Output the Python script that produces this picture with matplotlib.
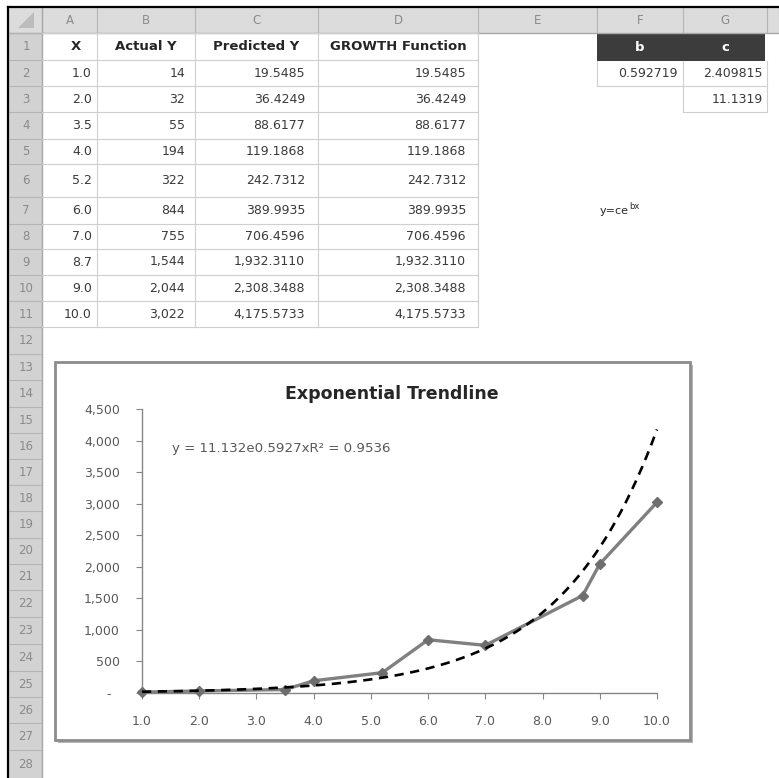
import numpy as np
import matplotlib
matplotlib.use('Agg')
import matplotlib.pyplot as plt
from matplotlib.patches import Rectangle, Polygon
from matplotlib.ticker import FuncFormatter, MultipleLocator

# data
x_vals = [1.0, 2.0, 3.5, 4.0, 5.2, 6.0, 7.0, 8.7, 9.0, 10.0]
actual_y = [14, 32, 55, 194, 322, 844, 755, 1544, 2044, 3022]
predicted_y = ['19.5485', '36.4249', '88.6177', '119.1868', '242.7312', '389.9935',
               '706.4596', '1,932.3110', '2,308.3488', '4,175.5733']
growth_y = predicted_y
b_coef = 0.592719
ln_c = 2.409815
c_coef = 11.1319
headers = ['X', 'Actual Y', 'Predicted Y', 'GROWTH Function']
col_letters = ['A', 'B', 'C', 'D', 'E', 'F', 'G']
eq_text = 'y = 11.132e0.5927xR² = 0.9536'
chart_title = 'Exponential Trendline'

W, H = 779, 778
fig = plt.figure(figsize=(W / 100, H / 100), dpi=100)
bg = fig.add_axes([0, 0, 1, 1])
bg.set_xlim(0, W)
bg.set_ylim(H, 0)
bg.axis('off')

# sheet geometry (pixels)
col_edges = [42, 97, 195, 318, 478, 597, 683, 767, 779]
row_edges = [33, 60, 86, 112, 139, 164, 197, 224, 249, 275, 301, 327, 354, 380,
             407, 433, 459, 485, 511, 538, 564, 590, 617, 644, 671, 697, 723, 750, 778]

# column header strip
bg.add_patch(Rectangle((8, 7), W - 8, 26, facecolor='#dcdcdc', edgecolor='none'))
for xe in col_edges:
    bg.plot([xe, xe], [7, 33], color='#b4b4b4', lw=0.8)
for i, L in enumerate(col_letters):
    xc = (col_edges[i] + col_edges[i + 1]) / 2
    bg.text(xc, 20, L, ha='center', va='center', fontsize=8.5, color='#8a8a8a')
bg.plot([8, W], [33, 33], color='#a8a8a8', lw=1)
# corner triangle
bg.add_patch(Polygon([[34, 12], [34, 28], [18, 28]], closed=True, facecolor='#bcbcbc',
                     edgecolor='none'))

# row header strip
bg.add_patch(Rectangle((8, 33), 34, H - 33, facecolor='#d2d2d2', edgecolor='none'))
for i in range(len(row_edges) - 1):
    bg.plot([8, 42], [row_edges[i], row_edges[i]], color='#b4b4b4', lw=0.8)
    yc = (row_edges[i] + row_edges[i + 1]) / 2
    bg.text(26, yc, str(i + 1), ha='center', va='center', fontsize=8.5, color='#8a8a8a')
bg.plot([42, 42], [7, H], color='#a8a8a8', lw=1)

# outer black frame
bg.plot([8, 8], [7, H], color='black', lw=1.6)
bg.plot([8, W], [7, 7], color='black', lw=1.6)

# table grid A1:D11
for ye in row_edges[:12]:
    bg.plot([42, 478], [ye, ye], color='#cfcfcf', lw=0.8)
for xe in col_edges[1:5]:
    bg.plot([xe, xe], [33, 327], color='#cfcfcf', lw=0.8)

# header row
for j, h in enumerate(headers):
    xc = (col_edges[j] + col_edges[j + 1]) / 2
    bg.text(xc + (6 if j == 0 else 0), 46.5, h, ha='center', va='center', fontsize=9.5,
            fontweight='bold', color='#262626')

pads = [5, 10, 13, 12]
for i in range(len(x_vals)):
    yc = (row_edges[i + 1] + row_edges[i + 2]) / 2
    cells = [f'{x_vals[i]:.1f}', f'{actual_y[i]:,}', predicted_y[i], growth_y[i]]
    for j, s in enumerate(cells):
        bg.text(col_edges[j + 1] - pads[j], yc, s, ha='right', va='center', fontsize=9,
                color='#3a3a3a')

# b / c block
bg.add_patch(Rectangle((597, 33), 168, 28, facecolor='#3c3c3c', edgecolor='none'))
bg.text(640, 47, 'b', ha='center', va='center', fontsize=9.5, fontweight='bold', color='white')
bg.text(725, 47, 'c', ha='center', va='center', fontsize=9.5, fontweight='bold', color='white')
bg.plot([597, 767], [86, 86], color='#cfcfcf', lw=0.8)
bg.plot([597, 597], [61, 86], color='#cfcfcf', lw=0.8)
bg.plot([683, 683], [61, 112], color='#cfcfcf', lw=0.8)
bg.plot([767, 767], [61, 112], color='#cfcfcf', lw=0.8)
bg.plot([683, 767], [112, 112], color='#cfcfcf', lw=0.8)
bg.text(678, 73, f'{b_coef:.6f}', ha='right', va='center', fontsize=9, color='#3a3a3a')
bg.text(763, 73, f'{ln_c:.6f}', ha='right', va='center', fontsize=9, color='#3a3a3a')
bg.text(763, 99, f'{c_coef:.4f}', ha='right', va='center', fontsize=9, color='#3a3a3a')
bg.text(600, 211, 'y=ce', ha='left', va='center', fontsize=8, color='#262626')
bg.text(629, 206, 'bx', ha='left', va='center', fontsize=6, color='#262626')

# chart area with shadow
bg.add_patch(Rectangle((58, 365), 635, 378, facecolor='#b5b5b5', edgecolor='none'))
bg.add_patch(Rectangle((55, 362), 635, 378, facecolor='white', edgecolor='#8c8c8c', lw=2))
bg.text(392, 394, chart_title, ha='center', va='center', fontsize=12.5,
        fontweight='bold', color='#262626')
bg.text(172, 448, eq_text, ha='left', va='center', fontsize=9.6, color='#595959')

# plot area
px0, px1, py0, py1 = 142, 657, 409, 693
ax = fig.add_axes([px0 / W, 1 - py1 / H, (px1 - px0) / W, (py1 - py0) / H])
ax.patch.set_alpha(0)
ax.set_xlim(1, 10)
ax.set_ylim(0, 4500)
for s in ['top', 'right']:
    ax.spines[s].set_visible(False)
for s in ['left', 'bottom']:
    ax.spines[s].set_color('#868686')
    ax.spines[s].set_linewidth(1)
ax.xaxis.set_major_locator(MultipleLocator(1))
ax.yaxis.set_major_locator(MultipleLocator(500))
ax.xaxis.set_major_formatter(FuncFormatter(lambda v, p: f'{v:.1f}'))
ax.yaxis.set_major_formatter(FuncFormatter(lambda v, p: '-  ' if v == 0 else f'{v:,.0f}'))
ax.tick_params(axis='both', direction='out', length=4, color='#868686', labelcolor='#595959',
               labelsize=9)
ax.tick_params(axis='y', pad=12)
ax.tick_params(axis='x', pad=12)

ax.plot(x_vals, actual_y, color='#808080', lw=2.4, marker='D', ms=5, mfc='#6e6e6e',
        mec='#6e6e6e', clip_on=False, zorder=3)
xs = np.linspace(1, 10, 200)
ax.plot(xs, c_coef * np.exp(b_coef * xs), color='black', lw=1.9, ls=(0, (3.5, 2.5)),
        clip_on=False, zorder=4)

fig.savefig('out.png', dpi=100)
